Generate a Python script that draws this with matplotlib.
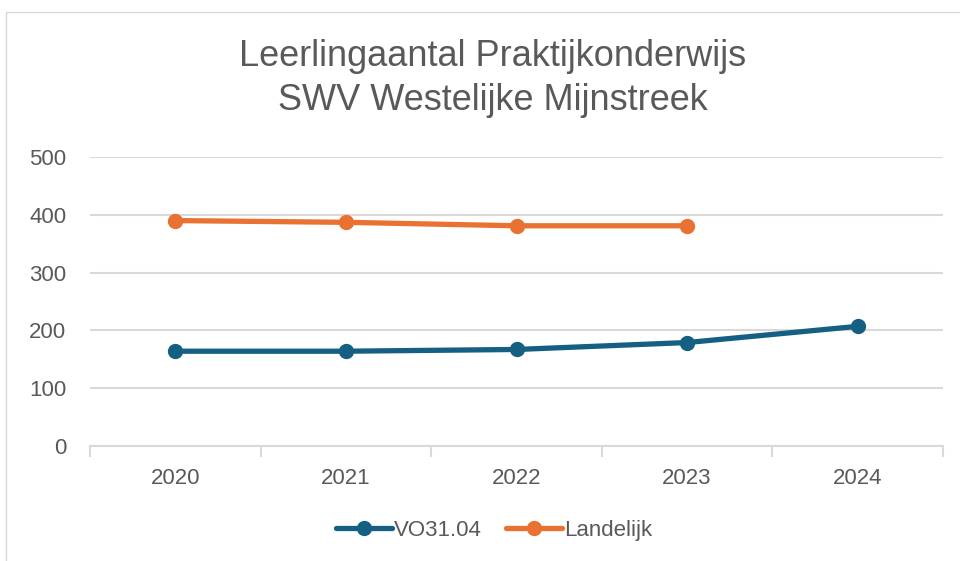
import matplotlib.pyplot as plt
from matplotlib.patches import Rectangle

years = ['2020', '2021', '2022', '2023', '2024']
vo3104 = [164, 164, 167, 179, 207]
landelijk = [390, 387, 381, 381]

blue = '#156082'
orange = '#E97132'
grey_txt = '#595959'
grid_col = '#d9d9d9'

plt.rcParams['font.family'] = ['Liberation Sans', 'DejaVu Sans']

fig = plt.figure(figsize=(9.6, 5.61), dpi=100)
# chart border like the excel chart area
fig.patches.append(Rectangle((6 / 960, -0.1), 1.2, (561 - 12) / 561 + 0.1,
                             transform=fig.transFigure, fill=False,
                             edgecolor='#d9d9d9', linewidth=1.0))

ax = fig.add_axes([90 / 960, (561 - 446) / 561, 853 / 960, 289 / 561])

x = list(range(len(years)))
ax.plot(x, vo3104, color=blue, lw=3.8, marker='o', markersize=10,
        solid_capstyle='round', label='VO31.04', zorder=3)
ax.plot(x[:len(landelijk)], landelijk, color=orange, lw=3.8, marker='o',
        markersize=10, solid_capstyle='round', label='Landelijk', zorder=3)

ax.set_xlim(-0.5, 4.5)
ax.set_ylim(0, 500)
ax.set_yticks(range(0, 501, 100))
ax.yaxis.grid(True, color=grid_col, linewidth=1.5)
ax.set_axisbelow(True)
for s in ['top', 'right', 'left']:
    ax.spines[s].set_visible(False)
ax.spines['bottom'].set_color(grid_col)
ax.spines['bottom'].set_linewidth(1.5)

ax.set_xticks(x)
ax.set_xticklabels(years)
ax.set_xticks([i - 0.5 for i in range(len(years) + 1)], minor=True)
ax.tick_params(axis='x', which='major', length=0, pad=16, labelsize=16,
               labelcolor=grey_txt)
ax.tick_params(axis='x', which='minor', length=8, width=1.5, color=grid_col,
               direction='out')
ax.tick_params(axis='y', length=0, pad=17, labelsize=16, labelcolor=grey_txt)

fig.text(0.513, 0.860, 'Leerlingaantal Praktijkonderwijs\nSWV Westelijke Mijnstreek',
         ha='center', va='center', fontsize=26, color=grey_txt, linespacing=1.32)

fig.legend(loc='center', bbox_to_anchor=(0.515, 0.055), ncol=2, frameon=False,
           fontsize=16, labelcolor=grey_txt, handlelength=2.5,
           handletextpad=0.1, columnspacing=1.1)

plt.savefig('out.png', dpi=100)
